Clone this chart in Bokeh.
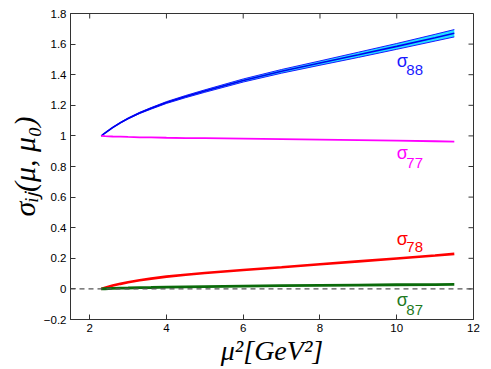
import math
from bokeh.plotting import figure
from bokeh.models import ColumnDataSource, FixedTicker, Span, Range1d
from bokeh.core.properties import value
from bokeh.embed import file_html
from bokeh.resources import INLINE

# ---- data ----
x_mu2 = [2.3, 2.4, 2.6, 2.8, 3.0, 3.3, 3.6, 4.0, 4.5, 5.0, 6.0, 7.0, 8.0, 9.0, 10.0, 11.0, 11.5]
sigma88 = [1.0, 1.019, 1.055, 1.086, 1.114, 1.150, 1.180, 1.218, 1.257, 1.293, 1.362, 1.422, 1.476, 1.530, 1.585, 1.642, 1.671]
sigma88_err = [0.0, 0.0005, 0.0015, 0.0025, 0.003, 0.004, 0.005, 0.006, 0.007, 0.008, 0.010, 0.012, 0.014, 0.017, 0.019, 0.022, 0.024]
sigma77 = [1.0, 0.998, 0.996, 0.995, 0.993, 0.991, 0.990, 0.988, 0.986, 0.985, 0.982, 0.979, 0.976, 0.973, 0.969, 0.965, 0.963]
sigma78 = [0.0, 0.008, 0.022, 0.033, 0.043, 0.056, 0.067, 0.080, 0.093, 0.104, 0.124, 0.142, 0.161, 0.180, 0.199, 0.218, 0.229]
sigma87 = [0.0, 0.001, 0.003, 0.005, 0.006, 0.008, 0.009, 0.011, 0.013, 0.015, 0.018, 0.021, 0.023, 0.025, 0.027, 0.028, 0.029]

x_ticks = [2, 4, 6, 8, 10, 12]
x_tick_labels = ["2", "4", "6", "8", "10", "12"]
y_ticks = [-0.2, 0, 0.2, 0.4, 0.6, 0.8, 1, 1.2, 1.4, 1.6, 1.8]
y_tick_labels = ["\u22120.2", "0", "0.2", "0.4", "0.6", "0.8", "1", "1.2", "1.4", "1.6", "1.8"]

series_names = ["88", "77", "78", "87"]
label_colors = ["#1a1aff", "#ff00ff", "#ff0000", "#1f7a1f"]
label_sigma_x = [10.0, 10.0, 10.0, 10.0]
label_sigma_y = [1.49, 0.885, 0.327, -0.07]
label_sub_x = [10.25, 10.25, 10.25, 10.25]
label_sub_y = [1.432, 0.826, 0.277, -0.135]

X_MIN, X_MAX, Y_MIN, Y_MAX = 1.5, 12, -0.2, 1.8

# ---- figure ----
p = figure(width=491, height=369, output_backend="svg", toolbar_location=None,
           x_range=Range1d(X_MIN, X_MAX), y_range=Range1d(Y_MIN, Y_MAX),
           min_border_left=70, min_border_right=18, min_border_top=13, min_border_bottom=50)
p.background_fill_color = "white"
p.border_fill_color = "white"
p.outline_line_color = "#333333"
p.grid.visible = False

upper = [a + e for a, e in zip(sigma88, sigma88_err)]
lower = [a - e for a, e in zip(sigma88, sigma88_err)]
src = ColumnDataSource(dict(x=x_mu2, s88=sigma88, up=upper, lo=lower,
                            s77=sigma77, s78=sigma78, s87=sigma87))

p.add_layout(Span(location=0, dimension="width", line_color="#555555",
                  line_dash="5 4", line_width=1.2))

p.varea(x="x", y1="lo", y2="up", source=src, fill_color="#22e0ff")
p.line(x="x", y="up", source=src, line_color="#1a1aff", line_width=1)
p.line(x="x", y="lo", source=src, line_color="#1a1aff", line_width=1)
p.line(x="x", y="s88", source=src, line_color="#0000ee", line_width=1.6)
p.line(x="x", y="s77", source=src, line_color="#ff00ff", line_width=1.8)
p.line(x="x", y="s78", source=src, line_color="#ff0000", line_width=2.6)
p.line(x="x", y="s87", source=src, line_color="#0b6b0b", line_width=2.8)

lab = ColumnDataSource(dict(sx=label_sigma_x, sy=label_sigma_y, bx=label_sub_x, by=label_sub_y,
                            sig=["\u03c3"] * len(series_names), sub=series_names, c=label_colors))
p.text(x="sx", y="sy", text="sig", source=lab, text_color="c", text_font=value("Liberation Sans"),
       text_font_size="18px", text_baseline="alphabetic", text_align="left")
p.text(x="bx", y="by", text="sub", source=lab, text_color="c", text_font=value("Liberation Sans"),
       text_font_size="15px", text_baseline="alphabetic", text_align="left")

# inward tick marks on the top and right edges of the box
p.ray(x=[X_MAX] * len(y_ticks), y=y_ticks, length=5, length_units="screen",
      angle=math.pi, line_color="#333333", line_width=1)
p.ray(x=x_ticks, y=[Y_MAX] * len(x_ticks), length=5, length_units="screen",
      angle=-math.pi / 2, line_color="#333333", line_width=1)

x_over = {t: l for t, l in zip(x_ticks, x_tick_labels)}
y_over = {t: l for t, l in zip(y_ticks, y_tick_labels)}

def style(ax, ticks, over, label_size):
    ax.ticker = FixedTicker(ticks=ticks)
    ax.major_label_overrides = over
    ax.minor_tick_line_color = None
    ax.major_tick_in = 5
    ax.major_tick_out = 0
    ax.axis_line_color = "#333333"
    ax.major_tick_line_color = "#333333"
    ax.major_label_text_font = "Liberation Sans"
    ax.major_label_text_font_size = "11.5px"
    ax.major_label_text_color = "black"
    ax.major_label_standoff = 4
    ax.axis_label_text_font = "Liberation Serif"
    ax.axis_label_text_font_style = "italic"
    ax.axis_label_text_font_size = label_size
    ax.axis_label_text_color = "black"
    ax.axis_label_standoff = 0

style(p.xaxis[0], x_ticks, x_over, "28px")
style(p.yaxis[0], y_ticks, y_over, "30px")
p.xaxis[0].axis_label = "\u03bc\u00b2[GeV\u00b2]"
p.yaxis[0].axis_label = "\u03c3\u1d62\u2c7c(\u03bc, \u03bc\u2080)"

open("out.html", "w").write(file_html(p, INLINE))
